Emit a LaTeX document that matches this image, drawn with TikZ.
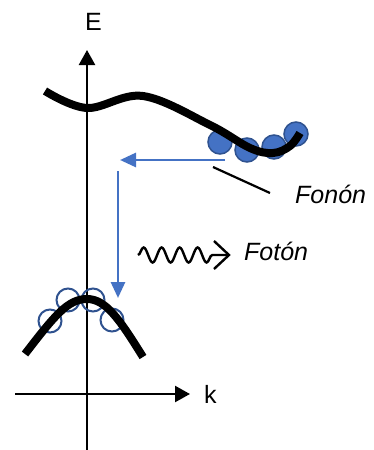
\documentclass[tikz,border=0pt]{standalone}
\usepackage{fontspec}
\setmainfont{Liberation Sans}
\usetikzlibrary{arrows.meta,decorations.pathmorphing}
\definecolor{bl}{HTML}{4472C4}
\definecolor{bld}{HTML}{2F528F}
\begin{document}
\begin{tikzpicture}[x=1pt,y=-1pt,
  axis/.style={line width=2.4pt,-{Triangle[width=16pt,length=15pt]}},
  band/.style={line width=8pt,line cap=butt},
  bluearrow/.style={bl,line width=2.8pt,-{Triangle[width=14pt,length=16pt]}},
  elec/.style={fill=bl,draw=bld,line width=1.5pt},
  hole/.style={draw=bld,line width=2pt},
  lbl/.style={inner sep=0pt,anchor=base west,font=\fontsize{25}{29}\selectfont}]
\useasboundingbox (0,0) rectangle (373,450);
% axes
\coordinate (ey0) at (87,450);
\coordinate (ey1) at (87,50);
\coordinate (kx0) at (15,394);
\coordinate (kx1) at (190,394);
\draw[axis] (ey0) -- (ey1);
\draw[axis] (kx0) -- (kx1);
\node[lbl] (E) at (85,30) {E};
\node[lbl] (k) at (204,403) {k};
% electrons
\node[elec,circle,minimum size=24pt,inner sep=0pt] (e1) at (220,142) {};
\node[elec,circle,minimum size=24pt,inner sep=0pt] (e2) at (247,150) {};
\node[elec,circle,minimum size=24pt,inner sep=0pt] (e3) at (274,147) {};
\node[elec,circle,minimum size=24pt,inner sep=0pt] (e4) at (296,134) {};
% holes
\node[hole,circle,minimum size=23pt,inner sep=0pt] (h1) at (50,321) {};
\node[hole,circle,minimum size=23pt,inner sep=0pt] (h2) at (68,300) {};
\node[hole,circle,minimum size=23pt,inner sep=0pt] (h3) at (93,300) {};
\node[hole,circle,minimum size=23pt,inner sep=0pt] (h4) at (112,320) {};
% conduction band
\draw[band] plot[smooth,tension=0.6] coordinates {(45,91) (87,108) (143,96) (210,125) (250,148) (273,153) (290,146) (300,133)};
% valence band
\draw[band] (25,354) .. controls (55,315) and (68,299) .. (87,299) .. controls (106,299) and (120,320) .. (143,357);
% blue arrows
\coordinate (b0) at (225,160);
\coordinate (b1) at (120,160);
\coordinate (v0) at (118,171);
\coordinate (v1) at (118,298);
\draw[bluearrow] (b0) -- (b1);
\draw[bluearrow] (v0) -- (v1);
% phonon callout
\node[lbl,font=\fontsize{25}{29}\selectfont\itshape] (fonon) at (295,203) {Fonón};
\coordinate (c0) at (213,167);
\coordinate (c1) at (270,193);
\draw[line width=2.2pt] (c0) -- (c1);
% photon
\coordinate (w0) at (138,255);
\coordinate (w1) at (229,255);
\coordinate (a1) at (214,241);
\coordinate (a2) at (214,269);
\draw[line width=2.4pt,decorate,decoration={snake,amplitude=7.5pt,segment length=18pt,post length=14pt}] (w0) -- (w1);
\draw[line width=2.4pt] (a1) -- (w1) -- (a2);
\node[lbl,font=\fontsize{25}{29}\selectfont\itshape] (foton) at (244,260) {Fotón};
\end{tikzpicture}
\end{document}
